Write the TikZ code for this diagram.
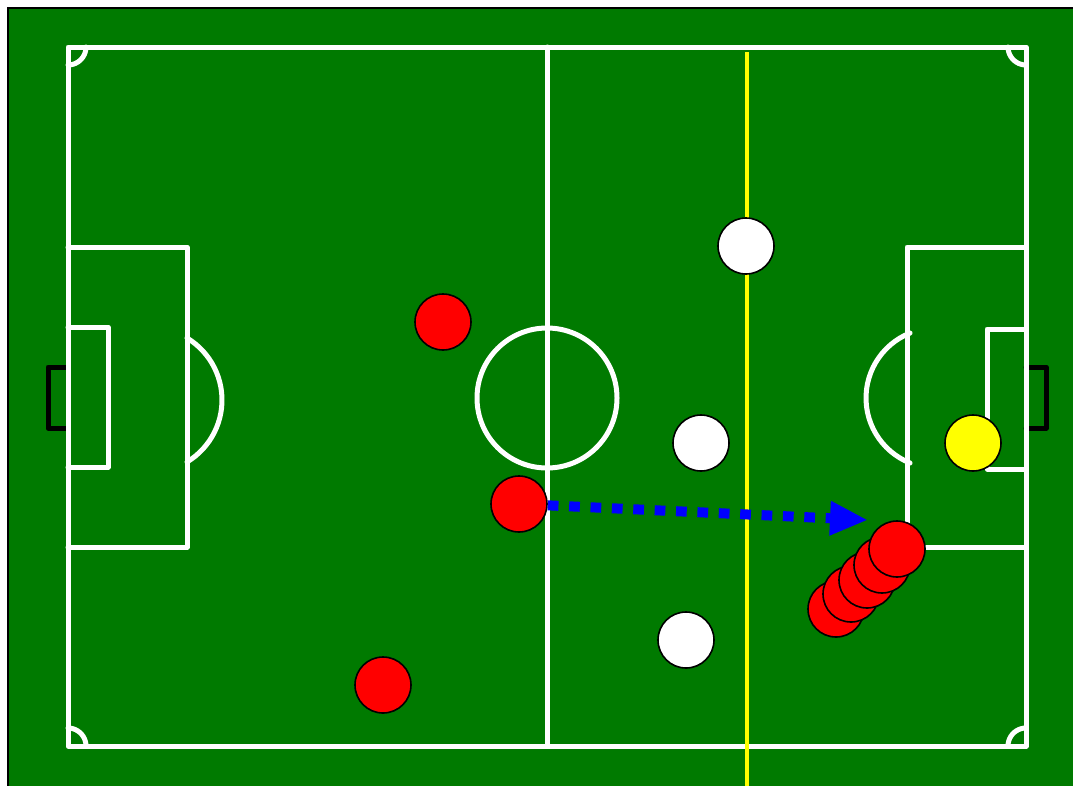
\documentclass[tikz,border=0pt]{standalone}
\usetikzlibrary{arrows.meta}
\definecolor{pitch}{RGB}{0,122,0}
\definecolor{pyellow}{RGB}{255,255,0}
\definecolor{pred}{RGB}{255,0,0}
\definecolor{pblue}{RGB}{0,0,255}
\tikzset{
  fieldline/.style={white, line width=5pt, line cap=round, line join=round},
  goalline/.style={black, line width=5pt, line cap=round, line join=round},
  offside/.style={pyellow, line width=4pt},
  player/.style={circle, draw=black, line width=1.6pt, minimum size=56pt, inner sep=0pt},
  pass/.style={pblue, line width=10pt, dash pattern=on 10.7pt off 10.7pt, -{Triangle[length=38pt,width=32pt]}}
}
\begin{document}
\begin{tikzpicture}[x=1pt,y=-1pt]
\useasboundingbox (0,0) rectangle (1073,785);
\clip (0,0) rectangle (1073,785);
\fill[pitch] (8,8) rectangle (1090,800);
\draw[black, line width=2pt] (8,800) -- (8,8) -- (1090,8);
% goals
\draw[goalline] (68,367) -- (48,367) -- (48,428) -- (68,428);
\draw[goalline] (1026,367) -- (1046,367) -- (1046,428) -- (1026,428);
% pitch markings
\draw[fieldline] (68,47) rectangle (1026,746);
\draw[fieldline] (547,47) -- (547,746);
\draw[fieldline] (547,398) circle[radius=70pt];
\draw[fieldline] (68,247) -- (187,247) -- (187,547) -- (68,547);
\draw[fieldline] (68,327) -- (108,327) -- (108,467) -- (68,467);
\draw[fieldline] (1026,247) -- (907,247) -- (907,547) -- (1026,547);
\draw[fieldline] (1026,329) -- (987,329) -- (987,469) -- (1026,469);
\draw[fieldline] plot[domain=-58.9:58.9, samples=30] ({149.6+72.4*cos(\x)},{400+72.4*sin(\x)});
\draw[fieldline] plot[domain=111.8:248.2, samples=30] ({936+70*cos(\x)},{398+70*sin(\x)});
\draw[fieldline] plot[domain=0:90, samples=12] ({68+18*cos(\x)},{47+18*sin(\x)});
\draw[fieldline] plot[domain=90:180, samples=12] ({1026+18*cos(\x)},{47+18*sin(\x)});
\draw[fieldline] plot[domain=-90:0, samples=12] ({68+18*cos(\x)},{746+18*sin(\x)});
\draw[fieldline] plot[domain=180:270, samples=12] ({1026+18*cos(\x)},{746+18*sin(\x)});
% offside line
\draw[offside] (747,52) -- (747,790);
% players
\node[player, fill=white] (w1) at (746,246) {};
\node[player, fill=white] (w2) at (701,443) {};
\node[player, fill=white] (w3) at (686,640) {};
\node[player, fill=pred] (r1) at (443,322) {};
\node[player, fill=pred] (r2) at (519,504) {};
\node[player, fill=pred] (r3) at (383,685) {};
\node[player, fill=pyellow] (gk) at (973,443) {};
\node[player, fill=pred] (s1) at (836,609) {};
\node[player, fill=pred] (s2) at (851,594) {};
\node[player, fill=pred] (s3) at (867,580) {};
\node[player, fill=pred] (s4) at (882,565) {};
\node[player, fill=pred] (s5) at (897,549) {};
% pass
\coordinate (tgt) at (868,520);
\draw[pass] (r2) -- (tgt);
\end{tikzpicture}
\end{document}
